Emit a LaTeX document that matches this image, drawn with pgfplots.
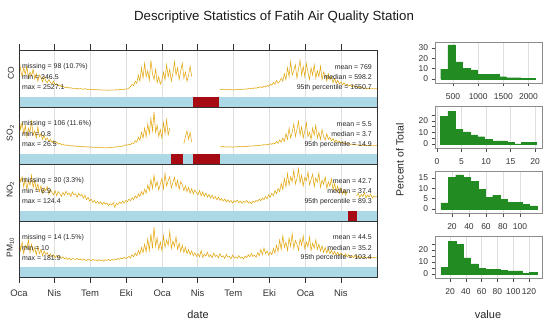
\documentclass[border=0pt]{standalone}
\usepackage{fontspec}
\setmainfont{Liberation Sans}
\usepackage{pgfplots}
\usepackage{pgfplotstable}
\pgfplotsset{compat=1.18}
\definecolor{trend}{HTML}{E3A812}
\definecolor{lb}{HTML}{ADD8E6}
\definecolor{mis}{rgb}{0.65,0.04,0.07}
\definecolor{fg}{HTML}{228B22}
\definecolor{gridc}{HTML}{E0E0E0}
\definecolor{framec}{HTML}{333333}
\definecolor{histframe}{HTML}{8C8C8C}

\pgfplotstableread{
day CO SO2 NO2 PM10
0 2527 24.4 115 130
4 1650 14 85 70
8 1200 19 100 110
12 1800 11 70 55
16 1350 17 95 95
20 1900 9 62 80
24 1100 15 88 120
28 1500 12 75 60
32 1250 20 105 100
36 1700 10 68 65
40 1050 13 90 85
44 1400 8 60 50
48 900 16 78 90
52 1300 9 55 55
56 1150 11 72 75
60 850 7 50 45
64 1200 10 66 68
68 950 6.5 58 52
72 780 8 70 60
76 1000 5.5 48 42
80 820 7 62 55
84 700 4.8 52 40
88 900 6 45 50
92 650 4.2 58 36
96 720 5 42 46
100 580 3.6 55 38
104 640 4.2 48 42
108 520 3.2 40 33
112 560 3.6 52 40
116 480 2.8 44 30
120 450 3.1 56 36
124 500 2.5 46 28
128 420 2.9 50 34
132 460 2.2 40 26
136 400 2.6 54 32
140 430 2 45 30
144 380 2.4 48 27
148 410 1.8 38 33
152 360 2.2 50 25
156 400 1.7 42 31
160 370 2 46 24
164 340 1.6 35 30
168 390 1.9 44 26
172 350 1.4 30 22
176 330 1.8 38 29
180 360 1.3 26 25
184 320 1.6 32 21
188 345 1.2 22 28
192 310 1.5 28 23
196 335 1.1 20 26
200 300 1.4 25 20
204 325 1 18 27
208 290 1.3 24 22
212 310 0.9 15 25
216 280 1.2 22 19
220 305 0.8 17 26
224 295 1.1 20 23
228 270 1 12 28
232 300 1.3 18 21
236 285 1.1 14 27
240 310 1.5 21 24
244 290 1.3 6.9 30
248 320 1.8 19 26
252 300 1.6 15 33
256 340 2.1 23 28
260 315 1.9 18 35
264 350 2.5 26 30
268 330 2.2 20 38
272 380 3.2 28 32
276 360 2.8 24 36
280 420 3.6 32 42
284 520 3.2 27 35
288 680 4.5 36 50
292 600 4 30 40
296 900 6 42 58
300 750 5 35 45
304 1300 8.5 48 70
308 900 6.5 40 52
312 1800 12 55 85
316 1100 8 45 60
320 2100 15 62 100
324 1200 9 50 65
328 1600 18 75 125
332 950 11 58 70
336 2300 22 92 150
340 1400 13 65 80
344 1000 26.5 105 181.9
348 1700 12 70 90
352 800 17 85 130
356 1200 9 60 75
360 700 14 78 110
364 900 8 95 70
368 1500 19 64 140
372 1000 11 110 85
376 2000 21 72 120
380 1200 10 88 95
384 1700 15 100 160
388 900 nan 66 80
392 1400 nan 82 115
396 2200 nan 98 90
400 1300 nan 70 135
404 1800 nan 90 75
408 1000 nan 62 105
412 1600 nan 85 65
416 2100 nan 76 95
420 1100 4 58 60
424 1500 9 72 85
428 900 13 55 55
432 1300 7 68 75
436 1900 12 50 50
440 1200 5 64 68
444 nan nan 48 45
448 nan nan 60 60
452 nan nan 52 42
456 nan nan 45 55
460 nan nan 58 40
464 nan nan 42 70
468 nan nan 54 38
472 nan nan 40 52
476 nan nan 50 44
480 nan nan 38 62
484 nan nan 46 40
488 nan nan 35 50
492 nan nan 44 36
496 nan nan 33 58
500 nan nan 40 42
504 nan nan 30 48
508 nan nan 38 35
512 340 1.8 28 55
516 320 1.5 34 40
520 360 2 26 45
524 330 1.6 32 33
528 300 1.4 24 52
532 345 1.8 30 38
536 310 1.5 22 42
540 330 1.7 28 30
544 295 1.3 20 48
548 320 1.6 27 35
552 340 1.8 23 40
556 310 1.5 29 32
560 350 1.9 21 46
564 325 1.6 26 34
568 360 2 19 38
572 335 1.7 25 30
576 380 2.1 22 44
580 350 1.8 28 36
584 400 2.3 20 50
588 370 2 24 40
592 420 2.4 18 56
596 390 2.1 26 42
600 450 2.6 22 48
604 410 2.3 28 38
608 480 2.8 25 60
612 440 2.5 32 45
616 520 3 27 75
620 460 2.7 35 50
624 560 3.3 30 82
628 500 2.9 40 55
632 600 3.5 33 68
636 540 3.1 45 48
640 700 4 38 62
644 620 3.4 50 50
648 820 4.5 42 80
652 680 3.8 58 58
656 950 5.5 48 95
660 760 4.2 65 65
664 880 6.5 55 120
668 1100 5 80 75
672 900 8 62 140
676 1400 5.5 95 85
680 1000 11 70 110
684 1800 7 110 70
688 1200 15 75 130
692 2200 8 100 90
696 1300 12 85 150
700 1600 18 120 80
704 2000 9 78 118
708 1100 14 95 100
712 1700 20 124.4 72
716 2300 10 82 125
720 1300 16 105 95
724 1900 8 72 140
728 1200 13 98 78
732 2100 19 88 110
736 1500 9 115 88
740 1000 12 76 135
744 1800 7 92 70
748 1300 15 108 105
752 2000 10 70 82
756 1100 17 96 120
760 1600 8 84 75
764 1200 12 112 100
768 1900 7 68 68
772 1000 14 90 92
776 1500 9 78 60
780 1300 6.5 100 85
784 900 11 65 58
788 1400 7 85 78
792 1000 8.5 72 55
796 1200 6 94 70
800 800 7.5 60 52
804 1100 5.2 80 66
808 750 6.5 55 48
812 950 4.8 72 62
816 700 5.6 50 45
820 850 4.3 66 58
824 650 5 48 50
828 780 3.9 60 42
832 600 4.4 45 55
836 700 3.6 55 40
840 560 4 nan 50
844 640 3.3 nan 38
848 520 3.7 nan 46
852 600 3.1 nan 36
856 480 3.4 nan 48
860 540 2.9 42 34
864 450 3.2 50 44
868 500 2.7 38 37
872 420 3 46 42
876 460 2.6 40 33
880 400 2.9 52 40
884 440 2.5 36 35
888 380 2.8 44 38
892 420 2.4 39 32
896 360 2.7 47 41
900 400 2.3 35 34
904 370 2.6 42 37
908 390 2.4 38 36
912 380 2.5 40 35
}\ts

\tikzset{ann/.style={font=\fontsize{7}{8}\selectfont, text=black!85, inner sep=0pt}}
\pgfplotsset{
  /pgf/number format/assume math mode=true,
  ts/.style={scale only axis, width=358bp, anchor=south west, xmin=0, xmax=912,
    xtick={0,90,181,273,365,455,546,638,730,820}, xticklabels={},
    xmajorgrids, major grid style={gridc, line width=0.5pt},
    ytick=\empty, tick align=outside, major tick length=0pt,
    axis line style={framec, line width=0.7pt},
    tick style={framec, line width=0.6pt},
    unbounded coords=jump, clip=false,
    ylabel style={font=\fontsize{8.5}{10}\selectfont, anchor=south, text=black!85},
  },
  hist/.style={scale only axis, width=107bp, anchor=south west,
    axis line style={histframe, line width=0.5pt},
    tick align=outside, xtick pos=left, ytick pos=left, major tick length=3.5bp,
    tick style={black!70, line width=0.5pt},
    xmajorgrids, major grid style={gridc, line width=0.4pt},
    ticklabel style={font=\fontsize{8.5}{10}\selectfont, text=black!80},
    xticklabel style={/pgf/number format/1000 sep={}, yshift=-4bp},
    scaled ticks=false, clip=false},
}
\newcommand\stats[6]{%
  \node[ann, anchor=west] at (rel axis cs:0.008,0.705) {#1};
  \node[ann, anchor=west] at (rel axis cs:0.008,0.525) {#2};
  \node[ann, anchor=west] at (rel axis cs:0.008,0.345) {#3};
  \node[ann, anchor=east] at (rel axis cs:0.986,0.705) {#4};
  \node[ann, anchor=east] at (rel axis cs:0.986,0.525) {#5};
  \node[ann, anchor=east] at (rel axis cs:0.986,0.345) {#6};
  \draw[framec, line width=0.7pt] (rel axis cs:0,0) rectangle (rel axis cs:1,1);
}

\begin{document}
\begin{tikzpicture}[x=1bp,y=1bp]
\useasboundingbox (0,0) rectangle (544,320);

% CO
\begin{axis}[ts, at={(19bp,213bp)}, height=57bp, ymin=-850, ymax=3000,
  ylabel={CO}, ylabel style={at={(axis description cs:-0.004,0.6)}},
  xtick pos=right, major tick length=5.5bp]
\addplot[fill=lb, draw=none] coordinates {(0,-850)(912,-850)(912,-175)(0,-175)} -- cycle;
\addplot[fill=mis, draw=none] coordinates {(442,-850)(510,-850)(510,-175)(442,-175)} -- cycle;
\addplot[trend, line width=0.55pt] table[x=day, y=CO] {\ts};
\stats{missing = 98 (10.7\%)}{min = 246.5}{max = 2527.1}{mean = 769}{median = 598.2}{95th percentile = 1650.7}
\end{axis}

% SO2
\begin{axis}[ts, at={(19bp,156bp)}, height=57bp, ymin=-10.6, ymax=30.1,
  ylabel={SO\textsubscript{2}}, ylabel style={at={(axis description cs:-0.004,0.54)}}]
\addplot[fill=lb, draw=none] coordinates {(0,-10.6)(912,-10.6)(912,-3.46)(0,-3.46)} -- cycle;
\addplot[fill=mis, draw=none] coordinates {(387,-10.6)(417,-10.6)(417,-3.46)(387,-3.46)} -- cycle;
\addplot[fill=mis, draw=none] coordinates {(443,-10.6)(511,-10.6)(511,-3.46)(443,-3.46)} -- cycle;
\addplot[trend, line width=0.55pt] table[x=day, y=SO2] {\ts};
\stats{missing = 106 (11.6\%)}{min = 0.8}{max = 26.5}{mean = 5.5}{median = 3.7}{95th percentile = 14.9}
\end{axis}

% NO2
\begin{axis}[ts, at={(19bp,99bp)}, height=57bp, ymin=-35, ymax=139.4,
  ylabel={NO\textsubscript{2}}, ylabel style={at={(axis description cs:-0.004,0.55)}}]
\addplot[fill=lb, draw=none] coordinates {(0,-35)(912,-35)(912,-4.4)(0,-4.4)} -- cycle;
\addplot[fill=mis, draw=none] coordinates {(839,-35)(860,-35)(860,-4.4)(839,-4.4)} -- cycle;
\addplot[trend, line width=0.55pt] table[x=day, y=NO2] {\ts};
\stats{missing = 30 (3.3\%)}{min = 6.9}{max = 124.4}{mean = 42.7}{median = 37.4}{95th percentile = 89.3}
\end{axis}

% PM10
\begin{axis}[ts, at={(19bp,43bp)}, height=56bp, ymin=-56, ymax=210.6,
  ylabel={PM\textsubscript{10}}, ylabel style={at={(axis description cs:-0.004,0.53)}},
  xtick pos=left, major tick length=5.5bp,
  xticklabels={Oca,Nis,Tem,Eki,Oca,Nis,Tem,Eki,Oca,Nis},
  xticklabel style={font=\fontsize{9.5}{11}\selectfont, text=black!80, yshift=-4bp}]
\addplot[fill=lb, draw=none] coordinates {(0,-56)(912,-56)(912,-8.4)(0,-8.4)} -- cycle;
\addplot[trend, line width=0.55pt] table[x=day, y=PM10] {\ts};
\stats{missing = 14 (1.5\%)}{min = 10}{max = 181.9}{mean = 44.5}{median = 35.2}{95th percentile = 103.4}
\end{axis}

% Histograms
\begin{axis}[hist, at={(435bp,237bp)}, height=41bp, xmin=142, xmax=2269, ymin=-3.9, ymax=35.8,
  xtick={500,1000,1500,2000}, ytick={0,10,20,30}]
\addplot[ybar interval, fill=fg, draw=fg, line width=0.3pt] coordinates {(255,9.5)(400,33)(545,16.5)(690,10.3)(835,8.7)(980,4.3)(1125,4.3)(1270,4.2)(1415,2.2)(1560,1.2)(1705,1.2)(1850,0.8)(1995,0.5)(2140,0.5)};
\end{axis}

\begin{axis}[hist, at={(435bp,172bp)}, height=42bp, xmin=-0.4, xmax=21.4, ymin=-3.5, ymax=33,
  xtick={0,5,10,15,20}, ytick={0,5,10,15,20,25}, yticklabels={0,,10,,20,}]
\addplot[ybar interval, fill=fg, draw=fg, line width=0.3pt] coordinates {(0.7,24)(2.2,28.5)(3.7,13)(5.2,10.5)(6.7,7.8)(8.2,6.3)(9.7,4.3)(11.2,2.6)(12.7,2.6)(14.2,1.7)(15.7,0)(17.2,1.7)(18.7,1.2)(20.2,1.2)};
\end{axis}

\begin{axis}[hist, at={(435bp,107bp)}, height=42bp, xmin=0, xmax=126, ymin=-1.9, ymax=18.4,
  xtick={20,40,60,80,100}, ytick={0,5,10,15}]
\addplot[ybar interval, fill=fg, draw=fg, line width=0.3pt] coordinates {(7,3)(15.7,15.5)(24.4,16.5)(33.1,15.5)(41.8,13.5)(50.5,9.5)(59.2,5.8)(67.9,6.8)(76.6,4.8)(85.3,3.4)(94,3.2)(102.7,2.3)(111.4,1.5)(120.1,1.5)};
\end{axis}

\begin{axis}[hist, at={(435bp,42bp)}, height=42bp, xmin=1, xmax=136.5, ymin=-3.3, ymax=31.7,
  xtick={20,40,60,80,100,120}, ytick={0,5,10,15,20,25}, yticklabels={0,,10,,20,}]
\addplot[ybar interval, fill=fg, draw=fg, line width=0.3pt] coordinates {(8.6,5.5)(17.9,27)(27.3,24.5)(36.6,13.5)(46,8.5)(55.3,5)(64.6,4)(74,3.8)(83.3,3.2)(92.7,2.7)(102,2.6)(111.3,0.8)(120.7,1.5)(130,1.5)};
\end{axis}

\node[font=\fontsize{13.3}{15}\selectfont, text=black!90] at (274,303) {Descriptive Statistics of Fatih Air Quality Station};
\node[font=\fontsize{11}{13}\selectfont, text=black!85] at (198,5) {date};
\node[font=\fontsize{11}{13}\selectfont, text=black!85] at (488,5) {value};
\node[font=\fontsize{10.5}{12}\selectfont, text=black!85, rotate=90] at (400,160) {Percent of Total};
\end{tikzpicture}
\end{document}
